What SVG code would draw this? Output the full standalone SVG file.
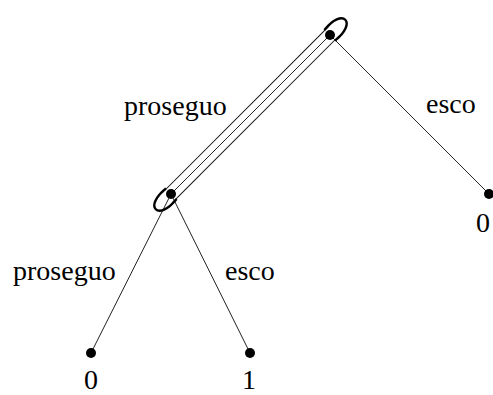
<svg xmlns="http://www.w3.org/2000/svg" width="493" height="395" viewBox="0 0 493 395">
<style>
.edge{stroke:#222;stroke-width:1;fill:none}
.dot{fill:#000}
.lbl{font-family:"Liberation Serif","Times New Roman",serif;font-size:28px;fill:#000}
.set{stroke:#111;stroke-width:1;fill:none}
.cap{stroke:#000;stroke-width:2.4;fill:none}
</style>
<rect width="493" height="395" fill="#fff"/>
<g id="connectors">
<line class="edge" x1="330" y1="35" x2="171" y2="194"/>
<line class="edge" x1="330" y1="35" x2="489" y2="194"/>
<line class="edge" x1="171" y1="194" x2="91" y2="353"/>
<line class="edge" x1="171" y1="194" x2="250" y2="353"/>
</g>
<g id="infoset" transform="translate(250.5,114.5) rotate(-45)">
<line class="set" x1="-118" y1="-7" x2="118" y2="-7"/>
<line class="set" x1="-118" y1="7" x2="118" y2="7"/>
<path class="cap" d="M112,-7.5 C126,-9 134,-5 134,0 C134,5 126,9 112,7.5"/>
<path class="cap" d="M-112,-7.5 C-126,-9 -134,-5 -134,0 C-134,5 -126,9 -112,7.5"/>
</g>
<g id="n-root"><circle class="dot" cx="330" cy="35" r="5"/></g>
<g id="n-mid"><circle class="dot" cx="171" cy="194" r="5"/></g>
<g id="n-right"><circle class="dot" cx="489" cy="194" r="5"/><text class="lbl" x="483" y="232" text-anchor="middle">0</text></g>
<g id="n-ll"><circle class="dot" cx="91" cy="353" r="5"/><text class="lbl" x="91" y="389" text-anchor="middle">0</text></g>
<g id="n-lr"><circle class="dot" cx="250" cy="353" r="5"/><text class="lbl" x="249" y="389" text-anchor="middle">1</text></g>
<g id="labels">
<text class="lbl" x="124" y="115">proseguo</text>
<text class="lbl" x="426" y="113">esco</text>
<text class="lbl" x="13" y="280">proseguo</text>
<text class="lbl" x="225" y="280">esco</text>
</g>
</svg>
